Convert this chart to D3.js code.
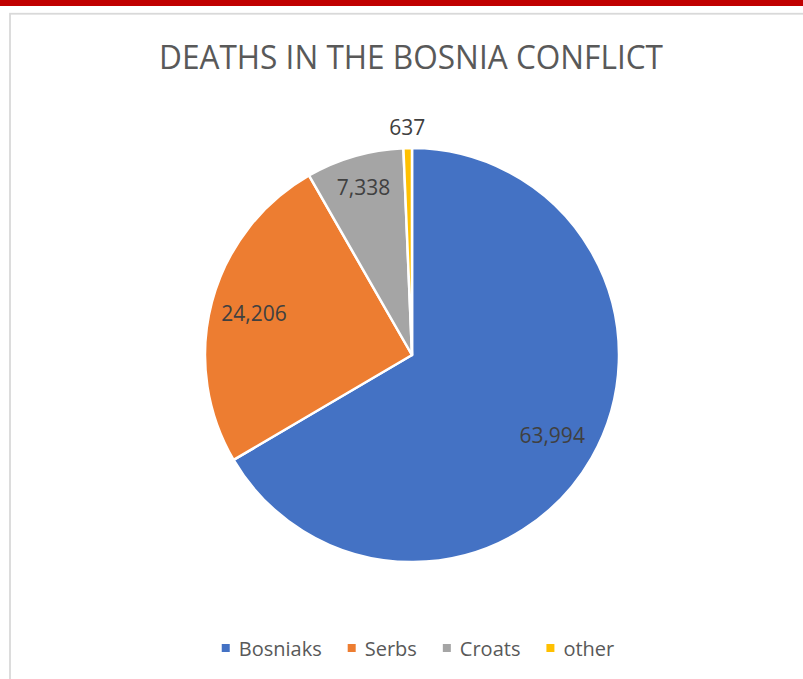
<!DOCTYPE html>
<html>
<head>
<meta charset="utf-8">
<script src="https://cdn.jsdelivr.net/npm/d3@7"></script>
<style>
    html, body { margin: 0; padding: 0; background: #fff; overflow: hidden; }
    svg { display: block; font-family: "Open Sans", "Noto Sans", sans-serif; }
</style>
</head>
<body>
<svg id="chart" width="803" height="679"></svg>
<script>
// Deaths in the Bosnia conflict, by group
const groups = ['Bosniaks', 'Serbs', 'Croats', 'other'];
const deaths = [63994, 24206, 7338, 637];
const colors = ['#4472c4', '#ed7d31', '#a5a5a5', '#ffc000'];

const width = 803;
const height = 679;
const cx = 412;
const cy = 355;
const radius = 207;

// where each label sits, as a share of the radius (last one is outside)
const labelPos = [0.78, 0.79, 0.845, 1.1];

const svg = d3.select('#chart');

// red strip on top and the chart frame
svg.append('rect')
    .attr('x', 0).attr('y', 0)
    .attr('width', width).attr('height', 6)
    .attr('fill', '#c00000');

svg.append('rect')
    .attr('x', 10).attr('y', 13.75)
    .attr('width', width + 20).attr('height', height + 20)
    .attr('fill', 'none')
    .attr('stroke', '#d9d9d9')
    .attr('stroke-width', 1.8);

svg.append('text')
    .attr('x', 411)
    .attr('y', 69)
    .attr('text-anchor', 'middle')
    .attr('font-size', 32)
    .attr('fill', '#595959')
    .attr('textLength', 504)
    .attr('lengthAdjust', 'spacingAndGlyphs')
    .text('DEATHS IN THE BOSNIA CONFLICT');

const pie = d3.pie().sort(null).value((d) => d.value);
const slices = pie(groups.map((g, i) => ({ name: g, value: deaths[i], i })));

const arc = d3.arc().innerRadius(0).outerRadius(radius);
const fmt = d3.format(',');

const g = svg.append('g').attr('transform', `translate(${cx},${cy})`);

g.selectAll('path')
    .data(slices)
    .join('path')
    .attr('d', arc)
    .attr('fill', (d) => colors[d.data.i])
    .attr('stroke', '#fff')
    .attr('stroke-width', 2.5)
    .attr('stroke-linejoin', 'round');

g.selectAll('text.value')
    .data(slices)
    .join('text')
    .attr('class', 'value')
    .attr('transform', (d) => {
        const r = radius * labelPos[d.data.i];
        const c = d3.arc().innerRadius(r).outerRadius(r).centroid(d);
        return `translate(${c[0]},${c[1]})`;
    })
    .attr('dy', '0.36em')
    .attr('text-anchor', 'middle')
    .attr('font-size', 21)
    .attr('fill', '#404040')
    .text((d) => fmt(d.data.value));

// legend, laid out from measured text widths
const legend = svg.append('g');
const items = legend.selectAll('g')
    .data(groups)
    .join('g');

items.append('rect')
    .attr('width', 8).attr('height', 8)
    .attr('y', 644)
    .attr('fill', (d, i) => colors[i]);

items.append('text')
    .attr('x', 17)
    .attr('y', 656)
    .attr('font-size', 20)
    .attr('fill', '#595959')
    .text((d) => d);

const widths = [];
items.select('text').each(function () { widths.push(17 + this.getComputedTextLength()); });
const gap = 26;
const total = d3.sum(widths) + gap * (widths.length - 1);
let x = 418 - total / 2;
items.attr('transform', (d, i) => {
    const t = `translate(${x},0)`;
    x += widths[i] + gap;
    return t;
});
</script>
</body>
</html>
